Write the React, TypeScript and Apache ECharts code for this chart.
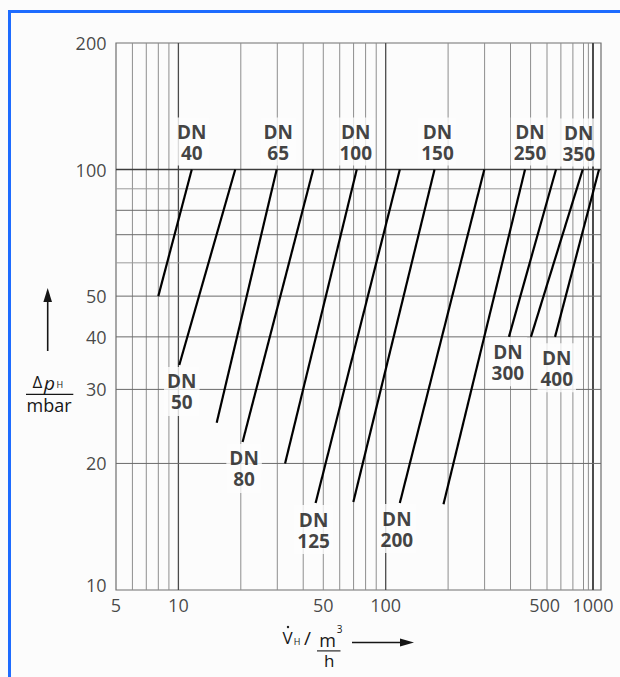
import React, { useEffect, useRef } from 'react';
import * as echarts from 'echarts';

// Axis ranges (log-log diagram)
const X_MIN = 5;
const X_MAX = 1093;
const Y_MIN = 10;
const Y_MAX = 200;

// Grid lines and tick labels
const xGridValues = [6, 7, 8, 9, 10, 20, 30, 40, 50, 60, 70, 80, 90, 100, 200, 300, 400, 500, 600, 700, 800, 900, 950, 1000];
const yGridValues = [20, 30, 40, 50, 60, 70, 80, 90, 100];
const xTickLabels = [5, 10, 50, 100, 500, 1000];
const yTickLabels = [10, 20, 30, 40, 50, 100, 200];

// Nominal sizes and the two end points of each characteristic line (flow m³/h, Δp mbar)
const nominalSizes = ['40', '50', '65', '80', '100', '125', '150', '200', '250', '300', '350', '400'];
const flowStart = [8.0, 10.1, 15.3, 20.4, 32.7, 45.9, 69.8, 117, 190, 393, 502, 656];
const dropStart = [50, 34.3, 25, 22.5, 20, 16.1, 16.2, 16.1, 16, 40, 40, 40];
const flowEnd = [11.6, 18.8, 29.8, 44.7, 72.5, 117, 172, 299, 470, 663, 892, 1069];
const dropEnd = [100, 100, 100, 100, 100, 100, 100, 100, 100, 100, 100, 100];

// Small pixel nudges for the DN captions (label layout only)
const captionNudge: [number, number][] = [
  [0, -3.5], [2.5, 1.5], [1.5, -3.5], [1.5, 1.5], [-1, -3.5], [-2, 1.5],
  [3, -3.5], [-3, 0.5], [5, -3.5], [-1, 0], [-4, -2.5], [1.7, 6],
];

const BG = '#fcfcfc';
const INK = '#161616';
const BLUE = '#1e6cff';
const FONT = '"Open Sans", "Noto Sans", sans-serif';

function buildOption(): echarts.EChartsOption {
  const majorX = [10, 100, 1000];

  const verticalGrid = xGridValues.map((v) => ({
    type: 'line' as const,
    silent: true,
    z: 1,
    symbol: 'none',
    data: [[v, Y_MIN], [v, Y_MAX]],
    lineStyle: {
      color: majorX.includes(v) ? '#4a4a4a' : '#8e8e8e',
      width: v === 1000 ? 2 : majorX.includes(v) ? 1.3 : 1,
    },
  }));

  const horizontalGrid = yGridValues.map((v) => ({
    type: 'line' as const,
    silent: true,
    z: 1,
    symbol: 'none',
    data: [[X_MIN, v], [X_MAX, v]],
    lineStyle: {
      color: v === 100 ? '#3c3c3c' : v === 90 || v === 60 ? '#9a9a9a' : '#6a6a6a',
      width: v === 100 ? 1.4 : 1,
    },
  }));

  const dnLines = nominalSizes.map((dn, i) => ({
    type: 'line' as const,
    name: 'DN ' + dn,
    z: 3,
    silent: true,
    symbol: 'none',
    data: [[flowStart[i], dropStart[i]], [flowEnd[i], dropEnd[i]]],
    lineStyle: { color: '#000', width: 2.2 },
  }));

  const dnCaptions = {
    type: 'scatter' as const,
    z: 5,
    silent: true,
    clip: false,
    symbolSize: 1,
    itemStyle: { color: 'rgba(0,0,0,0)' },
    data: nominalSizes.map((dn, i) => {
      const atTop = i % 2 === 0;
      return {
        value: atTop ? [flowEnd[i], dropEnd[i]] : [flowStart[i], dropStart[i]],
        label: {
          position: atTop ? 'top' : 'bottom',
          offset: captionNudge[i],
          padding: atTop ? [4, 3, 2, 3] : [4, 3, 3, 3],
          formatter: 'DN\n' + dn,
        },
      };
    }),
    label: {
      show: true,
      distance: 0,
      fontFamily: FONT,
      fontWeight: 'bold',
      fontSize: 19,
      lineHeight: 21,
      color: '#111',
      backgroundColor: BG,
    },
  };

  const xTicks = {
    type: 'scatter' as const,
    z: 4,
    silent: true,
    clip: false,
    symbolSize: 1,
    itemStyle: { color: 'rgba(0,0,0,0)' },
    data: xTickLabels.map((v) => ({
      value: [v, Y_MIN],
      label: v === 500 ? { offset: [14, 0] } : {},
    })),
    label: {
      show: true,
      position: 'bottom',
      distance: 5,
      formatter: (p: any) => String(p.value[0]),
      fontFamily: FONT,
      fontSize: 18,
      color: INK,
    },
  };

  const yTicks = {
    type: 'scatter' as const,
    z: 4,
    silent: true,
    clip: false,
    symbolSize: 1,
    itemStyle: { color: 'rgba(0,0,0,0)' },
    data: yTickLabels.map((v) => ({
      value: [X_MIN, v],
      label: v === 10 ? { offset: [0, -5] } : {},
    })),
    label: {
      show: true,
      position: 'left',
      distance: 9,
      formatter: (p: any) => String(p.value[1]),
      fontFamily: FONT,
      fontSize: 18,
      color: INK,
    },
  };

  const txt = (text: string, x: number, y: number, size: number, extra: any = {}) => ({
    type: 'text' as const,
    x,
    y,
    silent: true,
    style: {
      text,
      fontFamily: FONT,
      fontSize: size,
      fill: INK,
      align: 'center',
      verticalAlign: 'middle',
      ...extra,
    },
  });

  return {
    animation: false,
    backgroundColor: BG,
    grid: {
      left: 116,
      top: 43,
      right: 19,
      bottom: 87,
      show: true,
      borderColor: '#6e6e6e',
      borderWidth: 1.2,
      backgroundColor: 'transparent',
    },
    xAxis: {
      type: 'log',
      logBase: 10,
      min: X_MIN,
      max: X_MAX,
      axisLine: { show: false },
      axisTick: { show: false },
      axisLabel: { show: false },
      splitLine: { show: false },
    },
    yAxis: {
      type: 'log',
      logBase: 10,
      min: Y_MIN,
      max: Y_MAX,
      axisLine: { show: false },
      axisTick: { show: false },
      axisLabel: { show: false },
      splitLine: { show: false },
    },
    series: [...verticalGrid, ...horizontalGrid, ...dnLines, dnCaptions, xTicks, yTicks] as any,
    graphic: [
      // frame
      { type: 'rect', silent: true, shape: { x: 8, y: 10, width: 612, height: 3 }, style: { fill: BLUE } },
      { type: 'rect', silent: true, shape: { x: 8, y: 10, width: 3, height: 667 }, style: { fill: BLUE } },
      // y-axis title: arrow and Δp_H / mbar
      { type: 'line', silent: true, shape: { x1: 47.7, y1: 351, x2: 47.7, y2: 298 }, style: { stroke: INK, lineWidth: 1.6 } },
      { type: 'polygon', silent: true, shape: { points: [[47.7, 288], [43.4, 302], [52, 302]] }, style: { fill: INK } },
      txt('Δ', 37.5, 381, 17),
      txt('p', 49.5, 383, 19, { fontStyle: 'italic' }),
      txt('H', 59.8, 384.3, 9),
      { type: 'line', silent: true, shape: { x1: 26, y1: 394.3, x2: 73.3, y2: 394.3 }, style: { stroke: INK, lineWidth: 1.2 } },
      txt('mbar', 49, 405, 18),
      // x-axis title: V̇_H / (m³/h) and arrow
      txt('V', 287.5, 637, 17),
      { type: 'circle', silent: true, shape: { cx: 288, cy: 627, r: 1.2 }, style: { fill: INK } },
      txt('H', 297, 641.5, 9),
      txt('/', 307.6, 638, 19),
      txt('m', 327.5, 639.5, 18),
      txt('3', 339.5, 629, 10),
      { type: 'line', silent: true, shape: { x1: 317, y1: 650.9, x2: 340.5, y2: 650.9 }, style: { stroke: INK, lineWidth: 1.1 } },
      txt('h', 329.3, 660, 17),
      { type: 'line', silent: true, shape: { x1: 352, y1: 642.6, x2: 402, y2: 642.6 }, style: { stroke: INK, lineWidth: 1.5 } },
      { type: 'polygon', silent: true, shape: { points: [[400, 638.6], [414, 642.6], [400, 646.6]] }, style: { fill: INK } },
    ],
  };
}

export default function App() {
  const ref = useRef<HTMLDivElement>(null);

  useEffect(() => {
    if (!ref.current) return;
    const chart = echarts.init(ref.current, null, { renderer: 'svg' });
    chart.setOption(buildOption());
    return () => chart.dispose();
  }, []);

  return <div ref={ref} style={{ position: 'fixed', left: 0, top: 0, width: 620, height: 677 }} />;
}
